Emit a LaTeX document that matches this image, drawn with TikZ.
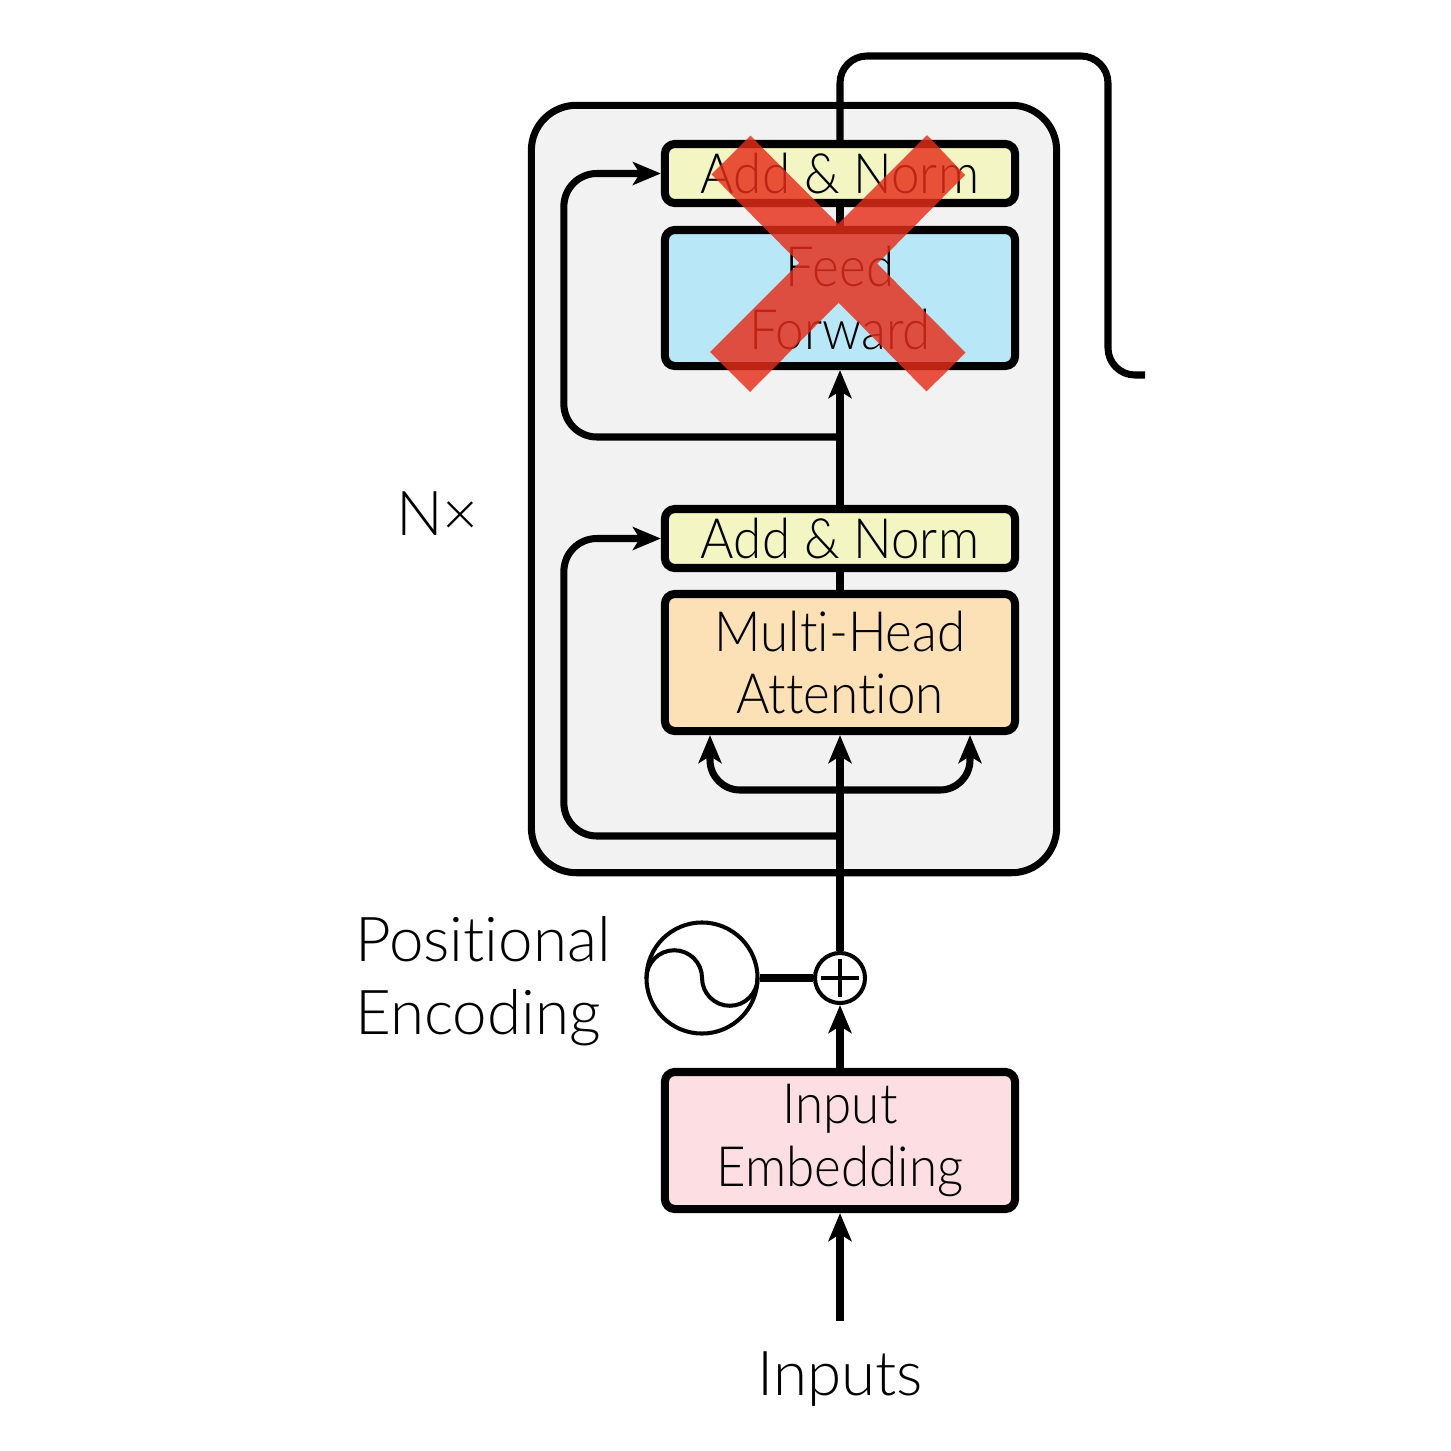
\documentclass[tikz,border=0pt]{standalone}
\usepackage{fontspec}
\setmainfont{Lato Light}[Ligatures=NoCommon]
\newfontfamily\boxfont{Lato Light}[Ligatures=NoCommon,FakeStretch=0.92]
\usetikzlibrary{arrows.meta,calc}
\definecolor{outerfill}{RGB}{242,242,242}
\definecolor{addnorm}{RGB}{243,245,195}
\definecolor{ffblue}{RGB}{184,231,247}
\definecolor{mhaorange}{RGB}{253,225,182}
\definecolor{embpink}{RGB}{253,222,226}
\definecolor{xred}{RGB}{230,45,25}
\begin{document}
\begin{tikzpicture}[x=0.01cm,y=-0.01cm,
  blk/.style={draw, line width=2.3pt, rounded corners=0.1cm, minimum width=3.5cm, inner sep=0pt, align=center, font=\boxfont\fontsize{15.8}{17.9}\selectfont},
  conn/.style={line width=2pt},
  arr/.style={conn, -{Stealth[length=0.28cm, width=0.23cm, inset=0.07cm]}},
  lbl/.style={font=\fontsize{17.6}{20.8}\selectfont, inner sep=0pt},
  thin/.style={line width=1.15pt}]
\useasboundingbox (0,0) rectangle (1451,1451);
\fill[white] (0,0) rectangle (1451,1451);

% encoder frame
\node[draw, fill=outerfill, line width=2pt, rounded corners=0.45cm, minimum width=5.25cm, minimum height=7.67cm, inner sep=0pt] (enc) at (794,489) {};

% blocks
\node[blk, fill=addnorm, minimum height=0.59cm] (an2) at (840,173.5) {Add \& Norm};
\node[blk, fill=ffblue, minimum height=1.36cm] (ff) at (840,298) {Feed\\Forward};
\node[blk, fill=addnorm, minimum height=0.59cm] (an1) at (840,538.5) {Add \& Norm};
\node[blk, fill=mhaorange, minimum height=1.37cm] (mha) at (840,662.5) {Multi-Head\\Attention};
\node[blk, fill=embpink, minimum height=1.37cm] (ie) at (840,1140.5) {Input\\Embedding};

% adder and positional encoding
\node[circle, draw, thin, minimum size=0.5cm, inner sep=0pt] (plus) at (840,978) {};
\draw[thin] ($(plus.center)+(-19,0)$) -- ($(plus.center)+(19,0)$);
\draw[thin] ($(plus.center)+(0,-19)$) -- ($(plus.center)+(0,19)$);
\node[circle, draw, thin, minimum size=1.11cm, inner sep=0pt] (pe) at (702,978) {};
\draw[thin] ($(pe.center)+(-55.5,0)$) arc[start angle=180, end angle=0, radius=0.2775cm] arc[start angle=180, end angle=360, radius=0.2775cm];
\draw[conn] (pe.east) -- (plus.west);

% labels
\node[lbl, align=left] (posenc) at (483,981) {Positional\\Encoding};
\node[lbl, anchor=base] (nx) at (437.5,535) {N×};
\node[lbl, anchor=base] (inputs) at (840,1395) {Inputs};

% connectors
\draw[arr, shorten <=0.3cm] (inputs.north) -- (ie.south);
\draw[arr] (ie.north) -- (plus.south);
\draw[arr] (plus.north) -- (mha.south);
\coordinate (split) at (840,790);
\draw[arr, rounded corners=0.3cm] (split) -| ($(mha.south)+(-130,0)$);
\draw[arr, rounded corners=0.3cm] (split) -| ($(mha.south)+(130,0)$);
\coordinate (res1) at (840,836);
\draw[arr, rounded corners=0.33cm] (res1) -| ($(an1.west)+(-97,0)$) -- (an1.west);
\draw[conn] (mha.north) -- (an1.south);
\draw[arr] (an1.north) -- (ff.south);
\coordinate (res2) at (840,437);
\draw[arr, rounded corners=0.33cm] (res2) -| ($(an2.west)+(-97,0)$) -- (an2.west);
\draw[conn] (ff.north) -- (an2.south);
\coordinate (outend) at (1145,375);
\draw[conn, rounded corners=0.27cm] (an2.north) |- (1108,56) |- (outend);

% red cross
\coordinate (a1) at (711.5,174.4);
\coordinate (a2) at (750.5,135.7);
\coordinate (a3) at (965.5,352.7);
\coordinate (a4) at (926.5,391.4);
\coordinate (b1) at (927,135);
\coordinate (b2) at (965,175);
\coordinate (b3) at (750,392);
\coordinate (b4) at (710,352);
\fill[xred, opacity=0.82] (a1) -- (a2) -- (intersection of a2--a3 and b1--b4) -- (b1) -- (b2)
  -- (intersection of b2--b3 and a2--a3) -- (a3) -- (a4)
  -- (intersection of a4--a1 and b2--b3) -- (b3) -- (b4)
  -- (intersection of b4--b1 and a1--a4) -- cycle;
\end{tikzpicture}
\end{document}
